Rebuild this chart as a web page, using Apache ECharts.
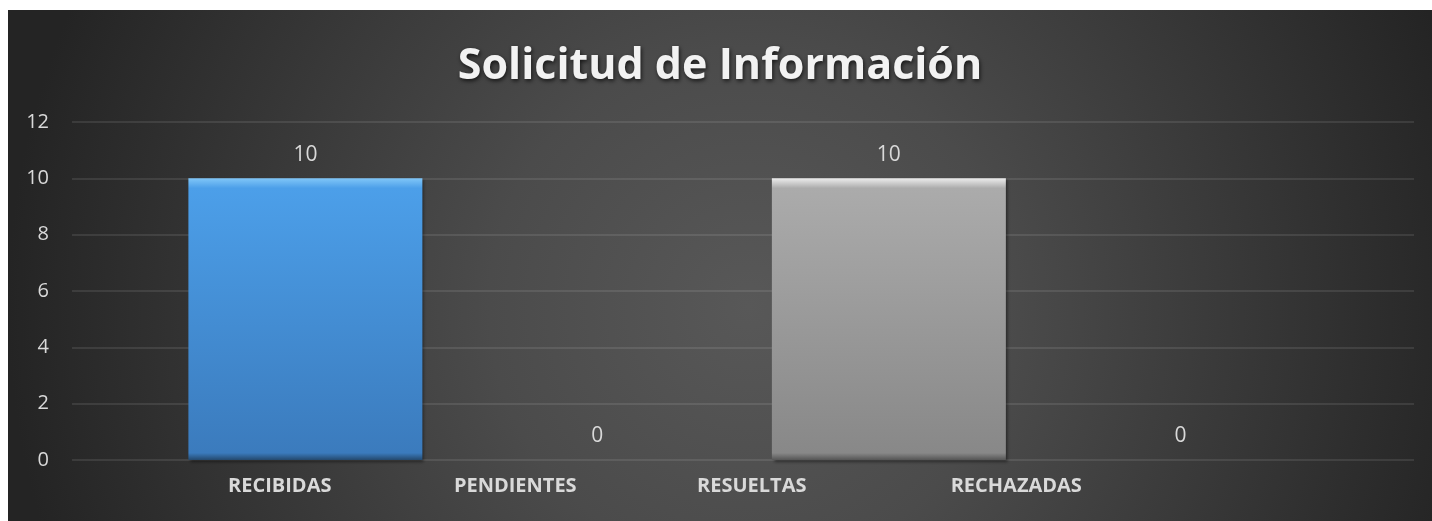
<!DOCTYPE html>
<html>
<head>
<meta charset="utf-8">
<script src="https://cdn.jsdelivr.net/npm/echarts@6/dist/echarts.min.js"></script>
<style>
  html, body { margin: 0; padding: 0; background: #ffffff; }
  #chart { position: absolute; left: 8px; top: 10px; width: 1424px; height: 511px; }
</style>
</head>
<body>
<div id="chart"></div>
<script>
const title = 'Solicitud de Información';
const categories = ['RECIBIDAS', 'PENDIENTES', 'RESUELTAS', 'RECHAZADAS'];
const values = [10, 0, 10, 0];
const yTicks = [0, 2, 4, 6, 8, 10, 12];

// Excel draws the category labels off the bar centres: horizontal shift (px) of each label
const labelShift = [40, -60, -159, -230];

const barStyles = [
  { top: '#80c6f8', mid: '#4c9fe9', bottom: '#3b7bbd', edge: '#24496e' },
  { top: '#bfbfbf', mid: '#acacac', bottom: '#8a8a8a', edge: '#555555' },
  { top: '#ececec', mid: '#ababab', bottom: '#888888', edge: '#555555' },
  { top: '#bfbfbf', mid: '#acacac', bottom: '#8a8a8a', edge: '#555555' }
];

const chart = echarts.init(document.getElementById('chart'), null, { renderer: 'canvas' });

const textColor = '#d9d9d9';
const font = '"Open Sans", "DejaVu Sans", sans-serif';

const rich = {};
labelShift.forEach((s, i) => {
  rich['c' + i] = {
    color: textColor,
    fontFamily: font,
    fontWeight: 'bold',
    fontSize: 20,
    padding: s >= 0 ? [0, 0, 0, 2 * s] : [0, -2 * s, 0, 0]
  };
});

const option = {
  animation: false,
  backgroundColor: {
    type: 'radial', x: 0.52, y: 0.58, r: 1.45,
    colorStops: [
      { offset: 0, color: '#585858' },
      { offset: 0.35, color: '#4b4b4b' },
      { offset: 1, color: '#242424' }
    ]
  },
  title: {
    text: title,
    left: 'center',
    top: 30,
    textStyle: {
      color: '#f2f2f2',
      fontFamily: font,
      fontWeight: 'bold',
      fontSize: 43,
      textShadowColor: 'rgba(0,0,0,0.7)',
      textShadowBlur: 4,
      textShadowOffsetX: 1,
      textShadowOffsetY: 2
    }
  },
  grid: { left: 64, right: 18, top: 112, bottom: 61 },
  xAxis: [
    {
      type: 'value',
      min: -0.8,
      max: 3.8,
      show: false
    },
    {
      type: 'category',
      data: categories,
      position: 'bottom',
      axisLine: { show: false },
      axisTick: { show: false },
      splitLine: { show: false },
      axisLabel: {
        interval: 0,
        margin: 16,
        formatter: (v, i) => '{c' + i + '|' + v + '}',
        rich: rich
      }
    }
  ],
  yAxis: {
    type: 'value',
    min: yTicks[0],
    max: yTicks[yTicks.length - 1],
    interval: yTicks[1] - yTicks[0],
    axisLine: { show: false },
    axisTick: { show: false },
    axisLabel: {
      color: textColor,
      fontFamily: font,
      fontSize: 20,
      margin: 23
    },
    splitLine: { lineStyle: { color: 'rgba(255,255,255,0.13)', width: 1.5 } }
  },
  series: [
    {
      type: 'bar',
      xAxisIndex: 0,
      barWidth: 234,
      data: values.map((v, i) => ({
        value: [i, v],
        itemStyle: {
          color: {
            type: 'linear', x: 0, y: 0, x2: 0, y2: 1,
            colorStops: [
              { offset: 0, color: barStyles[i].top },
              { offset: 0.035, color: barStyles[i].mid },
              { offset: 0.975, color: barStyles[i].bottom },
              { offset: 1, color: barStyles[i].edge }
            ]
          }
        }
      })),
      itemStyle: {
        shadowColor: 'rgba(0,0,0,0.45)',
        shadowBlur: 3,
        shadowOffsetX: 2,
        shadowOffsetY: 2
      },
      label: {
        show: true,
        position: 'top',
        distance: 13,
        color: textColor,
        fontFamily: font,
        fontSize: 21,
        formatter: p => p.value[1]
      }
    }
  ]
};

chart.setOption(option);
</script>
</body>
</html>
